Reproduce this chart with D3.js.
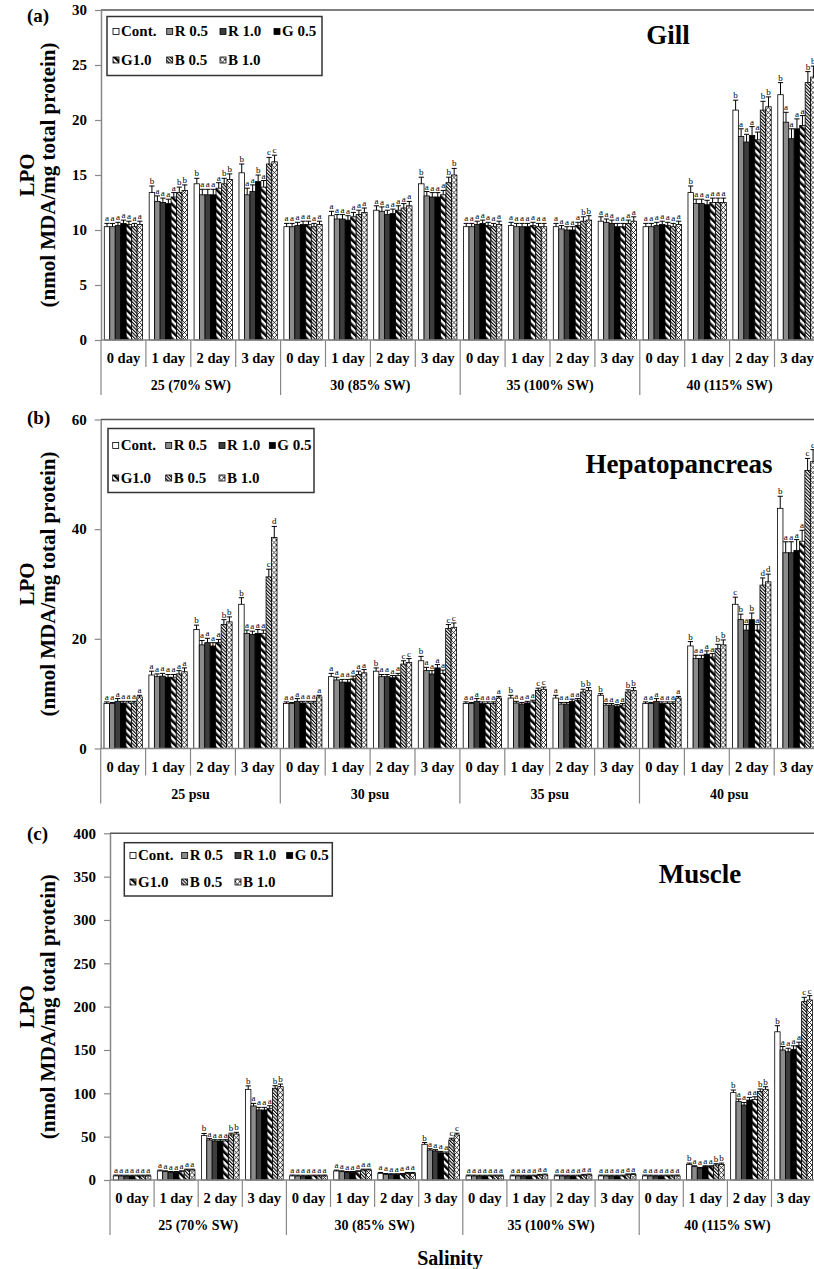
<!DOCTYPE html>
<html>
<head>
<meta charset="utf-8">
<script src="https://cdn.jsdelivr.net/npm/d3@7"></script>
<style>
  body { margin: 0; background: #fff; }
  svg { display: block; font-family: "Liberation Serif", "Times New Roman", serif; font-weight: bold; }
</style>
</head>
<body>
<div class="chart"></div>
<script>
// LPO in gill, hepatopancreas and muscle - grouped bars with error bars

var svgWidth = 814;
var svgHeight = 1269;

var seriesNames = ["Cont.", "R 0.5", "R 1.0", "G 0.5", "G1.0", "B 0.5", "B 1.0"];
var days = ["0 day", "1 day", "2 day", "3 day"];
var salinitySW = ["25 (70% SW)", "30 (85% SW)", "35 (100% SW)", "40 (115% SW)"];
var salinityPsu = ["25 psu", "30 psu", "35 psu", "40 psu"];

var ticksGill = [0, 5, 10, 15, 20, 25, 30];
var ticksHep = [0, 20, 40, 60];
var ticksMuscle = [0, 50, 100, 150, 200, 250, 300, 350, 400];

// one row per salinity/day group, one value per series
var gillValues = [
  [10.3, 10.3, 10.4, 10.6, 10.5, 10.3, 10.5],
  [13.4, 12.6, 12.5, 12.4, 13.0, 13.4, 13.6],
  [14.2, 13.2, 13.2, 13.2, 13.8, 14.2, 14.6],
  [15.2, 13.2, 13.5, 14.4, 13.9, 16.0, 16.2],
  [10.3, 10.3, 10.4, 10.5, 10.5, 10.3, 10.5],
  [11.3, 11.0, 11.0, 10.9, 11.2, 11.4, 11.6],
  [11.8, 11.7, 11.4, 11.5, 11.8, 12.0, 12.2],
  [14.2, 13.1, 13.0, 13.0, 13.2, 14.3, 15.0],
  [10.3, 10.3, 10.5, 10.6, 10.4, 10.3, 10.5],
  [10.4, 10.3, 10.3, 10.3, 10.4, 10.3, 10.3],
  [10.3, 10.1, 10.0, 10.0, 10.4, 10.8, 10.9],
  [10.8, 10.7, 10.6, 10.3, 10.3, 10.6, 10.8],
  [10.3, 10.3, 10.4, 10.5, 10.4, 10.3, 10.5],
  [13.4, 12.4, 12.4, 12.3, 12.5, 12.5, 12.5],
  [20.9, 18.5, 18.0, 18.6, 18.2, 20.9, 21.2],
  [22.3, 19.8, 18.3, 19.2, 19.5, 23.4, 23.9]
];
var gillErrors = [
  [0.3, 0.3, 0.3, 0.3, 0.3, 0.3, 0.3],
  [0.6, 0.5, 0.4, 0.4, 0.4, 0.5, 0.5],
  [0.5, 0.5, 0.5, 0.5, 0.5, 0.5, 0.5],
  [0.8, 0.6, 0.6, 0.6, 0.6, 0.6, 0.6],
  [0.3, 0.3, 0.3, 0.3, 0.3, 0.3, 0.3],
  [0.4, 0.4, 0.4, 0.4, 0.4, 0.4, 0.4],
  [0.4, 0.4, 0.4, 0.4, 0.4, 0.4, 0.4],
  [0.6, 0.4, 0.4, 0.4, 0.4, 0.5, 0.6],
  [0.3, 0.3, 0.3, 0.3, 0.3, 0.3, 0.3],
  [0.3, 0.3, 0.3, 0.3, 0.3, 0.3, 0.3],
  [0.3, 0.3, 0.3, 0.3, 0.3, 0.4, 0.4],
  [0.4, 0.3, 0.3, 0.3, 0.3, 0.3, 0.4],
  [0.3, 0.3, 0.3, 0.3, 0.3, 0.3, 0.3],
  [0.6, 0.4, 0.4, 0.4, 0.4, 0.4, 0.4],
  [0.9, 0.7, 0.7, 0.8, 0.7, 0.8, 0.9],
  [1.1, 0.9, 0.9, 0.9, 0.9, 1.0, 1.0]
];
var gillLetters = ["aaaaaaa", "baaaabb", "baaaabb", "baabacc", "aaaaaaa", "aaaaaaa", "aaaaaaa", "baaaabb",
                   "aaaaaaa", "aaaaaaa", "aaaaabb", "aaaaaaa", "aaaaaaa", "baaaaaa", "baaaabb", "baaaabb"];

var hepValues = [
  [8.2, 8.2, 8.6, 8.3, 8.3, 8.3, 9.4],
  [13.4, 13.1, 13.2, 13.0, 13.0, 13.6, 14.0],
  [21.7, 18.9, 19.3, 18.7, 19.3, 22.6, 23.1],
  [26.3, 21.0, 20.8, 21.0, 21.0, 31.3, 38.5],
  [8.2, 8.2, 8.6, 8.3, 8.3, 8.3, 9.4],
  [13.1, 12.5, 12.1, 12.1, 12.7, 13.5, 13.8],
  [14.1, 13.1, 13.1, 12.9, 13.3, 15.4, 15.7],
  [16.0, 14.2, 13.6, 14.7, 13.7, 21.9, 22.1],
  [8.2, 8.2, 8.6, 8.2, 8.2, 8.2, 9.2],
  [9.2, 8.3, 8.1, 8.3, 8.5, 10.6, 10.8],
  [9.2, 8.1, 8.1, 8.6, 8.8, 10.3, 10.6],
  [9.7, 7.9, 7.9, 7.7, 7.9, 10.3, 10.6],
  [8.2, 8.2, 8.6, 8.2, 8.2, 8.2, 9.2],
  [18.7, 16.4, 16.4, 17.2, 16.7, 18.2, 18.9],
  [26.3, 23.5, 21.6, 23.5, 21.6, 29.8, 30.4],
  [43.8, 35.7, 35.7, 36.1, 37.8, 50.7, 52.3]
];
var hepErrors = [
  [0.3, 0.2, 0.5, 0.3, 0.3, 0.3, 0.3],
  [0.7, 0.5, 0.5, 0.5, 0.5, 0.6, 0.7],
  [0.8, 0.8, 0.8, 0.6, 0.6, 0.9, 0.9],
  [1.2, 0.6, 0.6, 0.7, 0.6, 1.4, 2.0],
  [0.3, 0.2, 0.5, 0.3, 0.3, 0.3, 0.3],
  [0.6, 0.5, 0.5, 0.5, 0.5, 0.6, 0.6],
  [0.6, 0.4, 0.4, 0.4, 0.4, 0.6, 0.7],
  [0.8, 0.6, 0.6, 0.6, 0.6, 0.7, 0.8],
  [0.3, 0.2, 0.5, 0.3, 0.3, 0.3, 0.3],
  [0.5, 0.3, 0.3, 0.3, 0.3, 0.4, 0.4],
  [0.5, 0.3, 0.3, 0.4, 0.3, 0.5, 0.5],
  [0.3, 0.3, 0.3, 0.3, 0.3, 0.4, 0.5],
  [0.3, 0.2, 0.5, 0.3, 0.3, 0.3, 0.3],
  [0.8, 0.6, 0.6, 0.6, 0.6, 0.8, 0.9],
  [1.3, 1.0, 1.0, 1.2, 1.0, 1.3, 1.4],
  [2.2, 2.0, 2.0, 2.0, 2.0, 2.2, 2.2]
];
var hepLetters = ["aaaaaaa", "aaaaaaa", "baaaabb", "baaaacd", "aaaaaaa", "aaaaaaa", "baaaacc", "baaaacc",
                  "aaaaaaa", "baaaacc", "aaaaabb", "baaaabb", "aaaaaaa", "baaaabb", "cbabadd", "baaaacc"];

var muscleValues = [
  [4.7, 4.6, 4.5, 4.5, 4.6, 4.6, 4.7],
  [10.4, 9.6, 8.8, 8.8, 9.6, 11.5, 11.5],
  [51.2, 46.2, 45.0, 45.0, 45.0, 52.0, 53.0],
  [104.6, 85.4, 80.8, 80.8, 82.7, 105.8, 107.7],
  [4.7, 4.6, 4.5, 4.5, 4.6, 4.6, 4.7],
  [10.4, 9.6, 8.8, 8.8, 9.6, 11.5, 11.5],
  [7.7, 6.5, 6.2, 6.2, 6.5, 7.7, 7.7],
  [41.2, 34.6, 33.5, 31.5, 30.8, 46.2, 52.0],
  [4.7, 4.6, 4.5, 4.5, 4.6, 4.6, 4.7],
  [4.7, 4.6, 4.5, 4.5, 4.6, 5.5, 5.8],
  [4.7, 4.6, 4.5, 4.5, 4.6, 5.5, 5.8],
  [4.7, 4.6, 4.5, 4.5, 4.6, 6.0, 6.2],
  [4.7, 4.6, 4.5, 4.5, 4.6, 4.6, 4.7],
  [18.0, 15.4, 13.5, 15.4, 15.4, 17.3, 18.0],
  [100.8, 90.4, 86.5, 92.3, 93.0, 102.0, 104.6],
  [171.0, 150.0, 148.0, 150.8, 155.0, 205.8, 207.7]
];
var muscleErrors = [
  [1, 1, 1, 1, 1, 1, 1],
  [1, 1, 1, 1, 1, 1, 1],
  [2.5, 1.5, 1.5, 1.5, 1.5, 2, 2],
  [4, 3, 3, 3, 3, 3, 3],
  [1, 1, 1, 1, 1, 1, 1],
  [1, 1, 1, 1, 1, 1, 1],
  [1, 1, 1, 1, 1, 1, 1],
  [2, 1.5, 1.5, 1.5, 1.5, 2, 2],
  [1, 1, 1, 1, 1, 1, 1],
  [1, 1, 1, 1, 1, 1, 1],
  [1, 1, 1, 1, 1, 1, 1],
  [1, 1, 1, 1, 1, 1, 1],
  [1, 1, 1, 1, 1, 1, 1],
  [1.5, 1, 1, 1, 1, 1.5, 1.5],
  [3, 3, 3, 3, 3, 3, 3],
  [7, 4, 4, 4, 4, 5, 5]
];
var muscleLetters = ["aaaaaaa", "aaaaaaa", "baaaabb", "baaaabb", "aaaaaaa", "aaaaaaa", "aaaaaaa", "baaaacc",
                     "aaaaaaa", "aaaaaaa", "aaaaaaa", "aaaaaaa", "aaaaaaa", "baaaabb", "baaaabb", "baaaacc"];


var svg = d3.select(".chart")
  .append("svg")
  .attr("width", svgWidth)
  .attr("height", svgHeight);

// Bar fill patterns
var defs = svg.append("defs");

var pG = defs.append("pattern").attr("id", "pG10")
  .attr("patternUnits", "userSpaceOnUse").attr("width", 5).attr("height", 5)
  .attr("patternTransform", "rotate(-45)");
pG.append("rect").attr("width", 5).attr("height", 5).attr("fill", "#fff");
pG.append("rect").attr("width", 2.6).attr("height", 5).attr("fill", "#000");

var pB = defs.append("pattern").attr("id", "pB05")
  .attr("patternUnits", "userSpaceOnUse").attr("width", 2.4).attr("height", 4)
  .attr("patternTransform", "rotate(-45)");
pB.append("rect").attr("width", 2.4).attr("height", 4).attr("fill", "#fff");
pB.append("rect").attr("width", 1.1).attr("height", 4).attr("fill", "#000");

var pX = defs.append("pattern").attr("id", "pB10")
  .attr("patternUnits", "userSpaceOnUse").attr("width", 5).attr("height", 5);
pX.append("rect").attr("width", 5).attr("height", 5).attr("fill", "#fff");
pX.append("path").attr("d", "M0,0L5,5M5,0L0,5").attr("stroke", "#000").attr("stroke-width", 0.8);

var fills = ["#ffffff", "#8c8c8c", "#3d3d3d", "#000000", "url(#pG10)", "url(#pB05)", "url(#pB10)"];


function drawPanel(cfg) {
  var g = svg.append("g");
  var nGroups = cfg.values.length;

  var x0 = d3.scaleBand()
    .domain(d3.range(nGroups))
    .range([cfg.left, cfg.left + nGroups * cfg.groupW])
    .padding(0);

  var x1 = d3.scaleBand()
    .domain(d3.range(seriesNames.length))
    .range([0, x0.bandwidth()])
    .paddingInner(0)
    .paddingOuter(0.6);

  var y = d3.scaleLinear()
    .domain([0, cfg.ticks[cfg.ticks.length - 1]])
    .range([cfg.bottom, cfg.top]);

  // plot area top border
  g.append("line")
    .attr("x1", cfg.left).attr("x2", svgWidth + 10)
    .attr("y1", cfg.top).attr("y2", cfg.top)
    .attr("stroke", "#555").attr("stroke-width", 1.5);

  // flatten the bars
  var bars = [];
  cfg.values.forEach(function(row, gi) {
    row.forEach(function(v, si) {
      bars.push({ g: gi, s: si, v: v, e: cfg.errors[gi][si], l: cfg.letters[gi].charAt(si) });
    });
  });

  var barG = g.selectAll(".bar")
    .data(bars)
    .enter().append("g")
    .attr("class", "bar")
    .attr("transform", function(d) { return "translate(" + (x0(d.g) + x1(d.s)) + ",0)"; });

  barG.append("rect")
    .attr("x", 0)
    .attr("y", function(d) { return y(d.v); })
    .attr("width", x1.bandwidth())
    .attr("height", function(d) { return y(0) - y(d.v); })
    .attr("fill", function(d) { return fills[d.s]; })
    .attr("stroke", "#000")
    .attr("stroke-width", 0.8);

  // error bars
  var bw = x1.bandwidth();
  barG.append("path")
    .attr("d", function(d) {
      var top = y(d.v + d.e);
      return "M" + (bw / 2) + "," + y(d.v) + "V" + top + "M" + (bw / 2 - 2.6) + "," + top + "H" + (bw / 2 + 2.6);
    })
    .attr("stroke", "#000")
    .attr("stroke-width", 1)
    .attr("fill", "none");

  // significance letters
  barG.append("text")
    .attr("x", bw / 2)
    .attr("y", function(d) { return y(d.v + d.e) - 2; })
    .attr("text-anchor", "middle")
    .style("font-size", "9px")
    .style("font-weight", "normal")
    .text(function(d) { return d.l; });

  // y axis
  var leftAxis = d3.axisLeft(y)
    .tickValues(cfg.ticks)
    .tickSize(6)
    .tickSizeOuter(0)
    .tickPadding(8);

  var yAxisG = g.append("g")
    .attr("transform", "translate(" + cfg.left + ",0)")
    .call(leftAxis);
  yAxisG.select(".domain").attr("stroke", "#888").attr("stroke-width", 1.5);
  yAxisG.selectAll(".tick line").attr("stroke", "#888").attr("stroke-width", 1.2);
  yAxisG.selectAll(".tick text")
    .attr("fill", "#000")
    .style("font-family", "Liberation Serif")
    .style("font-weight", "bold")
    .style("font-size", "15px");

  // x axis line
  g.append("line")
    .attr("x1", cfg.left).attr("x2", svgWidth + 10)
    .attr("y1", cfg.bottom).attr("y2", cfg.bottom)
    .attr("stroke", "#888").attr("stroke-width", 1.5);

  // category dividers
  g.selectAll(".divider")
    .data(d3.range(nGroups + 1))
    .enter().append("line")
    .attr("class", "divider")
    .attr("x1", function(i) { return cfg.left + i * cfg.groupW; })
    .attr("x2", function(i) { return cfg.left + i * cfg.groupW; })
    .attr("y1", cfg.bottom)
    .attr("y2", function(i) { return cfg.bottom + (i % 4 === 0 ? 55 : 27); })
    .attr("stroke", "#888")
    .attr("stroke-width", 1.2);

  // day labels
  g.selectAll(".dayLabel")
    .data(d3.range(nGroups))
    .enter().append("text")
    .attr("class", "dayLabel")
    .attr("x", function(i) { return x0(i) + x0.bandwidth() / 2; })
    .attr("y", cfg.bottom + 23)
    .attr("text-anchor", "middle")
    .style("font-size", "14.5px")
    .text(function(i) { return days[i % 4]; });

  // salinity labels
  g.selectAll(".salLabel")
    .data(cfg.salinity)
    .enter().append("text")
    .attr("class", "salLabel")
    .attr("x", function(d, i) { return cfg.left + (i * 4 + 2) * cfg.groupW; })
    .attr("y", cfg.bottom + 50)
    .attr("text-anchor", "middle")
    .style("font-size", "14px")
    .text(function(d) { return d; });

  // y axis title (two lines)
  var cy = (cfg.top + cfg.bottom) / 2;
  g.append("text")
    .attr("transform", "translate(34," + cy + ") rotate(-90)")
    .attr("text-anchor", "middle")
    .style("font-size", "21px")
    .text("LPO");
  g.append("text")
    .attr("transform", "translate(55," + cy + ") rotate(-90)")
    .attr("text-anchor", "middle")
    .style("font-size", "21px")
    .text("(nmol MDA/mg total protein)");

  // panel tag and tissue title
  g.append("text")
    .attr("x", 27).attr("y", cfg.tagY)
    .style("font-size", "19px")
    .text(cfg.tag);

  g.append("text")
    .attr("x", cfg.titleX).attr("y", cfg.titleY)
    .attr("text-anchor", "middle")
    .style("font-size", "27px")
    .text(cfg.title);

  // legend
  var lg = cfg.legend;
  g.append("rect")
    .attr("x", lg.x).attr("y", lg.y)
    .attr("width", lg.w).attr("height", lg.h)
    .attr("fill", "#fff")
    .attr("stroke", "#333")
    .attr("stroke-width", 1.5);

  var item = g.selectAll(".legendItem")
    .data(seriesNames)
    .enter().append("g")
    .attr("class", "legendItem")
    .attr("transform", function(d, i) {
      return "translate(" + lg.cols[i % 4] + "," + lg.rows[Math.floor(i / 4)] + ")";
    });

  item.append("rect")
    .attr("x", 0).attr("y", -7.5)
    .attr("width", 6).attr("height", 6)
    .attr("fill", function(d, i) { return fills[i]; })
    .attr("stroke", "#000")
    .attr("stroke-width", 0.8);

  item.append("text")
    .attr("x", 8).attr("y", 0)
    .style("font-size", "15px")
    .text(function(d) { return d; });
}


drawPanel({
  values: gillValues, errors: gillErrors, letters: gillLetters,
  salinity: salinitySW, ticks: ticksGill,
  top: 10, bottom: 340, left: 101, groupW: 44.9,
  tag: "(a)", tagY: 22,
  title: "Gill", titleX: 668, titleY: 44,
  legend: { x: 107, y: 16.5, w: 215, h: 59, cols: [113, 166.7, 220, 274], rows: [36, 64.5] }
});

drawPanel({
  values: hepValues, errors: hepErrors, letters: hepLetters,
  salinity: salinityPsu, ticks: ticksHep,
  top: 419.5, bottom: 748.5, left: 100.7, groupW: 44.9,
  tag: "(b)", tagY: 424,
  title: "Hepatopancreas", titleX: 679, titleY: 473,
  legend: { x: 108, y: 428.5, w: 206, h: 64, cols: [112.7, 165.7, 219, 269.3], rows: [450, 482.5] }
});

drawPanel({
  values: muscleValues, errors: muscleErrors, letters: muscleLetters,
  salinity: salinitySW, ticks: ticksMuscle,
  top: 833.3, bottom: 1180, left: 110, groupW: 44.1,
  tag: "(c)", tagY: 840,
  title: "Muscle", titleX: 700, titleY: 883,
  legend: { x: 124.3, y: 842.7, w: 208, h: 53.3, cols: [130, 181.7, 235, 286.7], rows: [860, 886.5] }
});

// x axis title (bottom panel only)
svg.append("text")
  .attr("x", 450)
  .attr("y", 1265)
  .attr("text-anchor", "middle")
  .style("font-size", "20px")
  .text("Salinity");
</script>
</body>
</html>
